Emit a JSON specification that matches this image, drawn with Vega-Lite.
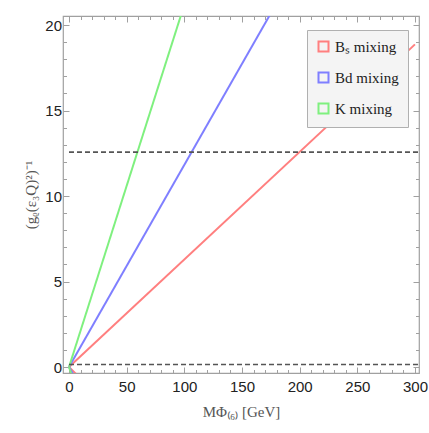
{
  "$schema": "https://vega.github.io/schema/vega-lite/v6.json",
  "width": 356,
  "height": 357,
  "autosize": {"type": "none"},
  "padding": {"left": 63, "top": 16, "right": 10, "bottom": 60},
  "background": "white",
  "config": {
    "view": {"stroke": "#A0A0A0", "strokeWidth": 1.2},
    "axis": {
      "domain": false,
      "grid": false,
      "labelFont": "Liberation Sans",
      "labelFontSize": 15,
      "labelColor": "#222222",
      "tickColor": "#A0A0A0",
      "tickWidth": 1,
      "titleFont": "Liberation Serif",
      "titleFontWeight": "normal",
      "titleColor": "#555555",
      "titleFontSize": 15
    }
  },
  "datasets": {
    "main": [
      {"s": "Bₛ mixing", "x": 0, "y": 0},
      {"s": "Bₛ mixing", "x": 300, "y": 18.87},
      {"s": "Bd mixing", "x": 0, "y": 0},
      {"s": "Bd mixing", "x": 180, "y": 21.28},
      {"s": "K mixing", "x": 0, "y": 0},
      {"s": "K mixing", "x": 100, "y": 21.19}
    ],
    "low": [
      {"s": "Bₛ mixing", "x": 0, "y": 0},
      {"s": "Bₛ mixing", "x": 6, "y": -0.4},
      {"s": "Bd mixing", "x": 0, "y": 0},
      {"s": "Bd mixing", "x": 3.5, "y": -0.4},
      {"s": "K mixing", "x": 0, "y": 0},
      {"s": "K mixing", "x": 2, "y": -0.4}
    ],
    "upper": [{"y": 12.57}],
    "lower": [{"y": 0.15}]
  },
  "layer": [
    {
      "data": {"name": "main"},
      "mark": {"type": "line", "strokeWidth": 2, "clip": true},
      "encoding": {
        "x": {
          "field": "x", "type": "quantitative",
          "scale": {"domain": [-5.2, 303.5], "nice": false, "zero": false},
          "axis": {"orient": "bottom", "values": [0, 50, 100, 150, 200, 250, 300], "tickSize": -6, "labelPadding": 12, "titlePadding": 10, "title": "MΦ₍₆₎ [GeV]"}
        },
        "y": {
          "field": "y", "type": "quantitative",
          "scale": {"domain": [-0.35, 20.53], "nice": false, "zero": false},
          "axis": {"orient": "left", "values": [0, 5, 10, 15, 20], "tickSize": -6, "labelPadding": 7.5, "titlePadding": 6, "title": "(gᵨ(ε₃Q)²)⁻¹"}
        },
        "color": {
          "field": "s", "type": "nominal",
          "scale": {"domain": ["Bₛ mixing", "Bd mixing", "K mixing"], "range": ["#FF7F7F", "#7F7FFF", "#7FF07F"]},
          "legend": {
            "orient": "none", "legendX": 244, "legendY": 14, "title": null,
            "symbolType": "square", "symbolSize": 100, "symbolStrokeWidth": 2, "symbolFillColor": "transparent",
            "fillColor": "#F4F4F4", "strokeColor": "#B0B0B0", "padding": 9,
            "labelFont": "Liberation Serif", "labelFontSize": 15, "labelColor": "#222222", "rowPadding": 12
          }
        }
      }
    },
    {
      "data": {"name": "low"},
      "mark": {"type": "line", "strokeWidth": 2, "clip": true},
      "encoding": {
        "x": {
          "field": "x", "type": "quantitative",
          "axis": {"orient": "bottom", "values": [10, 20, 30, 40, 60, 70, 80, 90, 110, 120, 130, 140, 160, 170, 180, 190, 210, 220, 230, 240, 260, 270, 280, 290], "tickSize": -3.5, "labels": false, "title": null}
        },
        "y": {
          "field": "y", "type": "quantitative",
          "axis": {"orient": "left", "values": [1, 2, 3, 4, 6, 7, 8, 9, 11, 12, 13, 14, 16, 17, 18, 19], "tickSize": -3.5, "labels": false, "title": null}
        },
        "color": {"field": "s", "type": "nominal"},
        "detail": {"field": "s"}
      }
    },
    {
      "data": {"name": "upper"},
      "mark": {"type": "rule", "strokeDash": [5, 3], "strokeWidth": 1.6, "color": "#555555"},
      "encoding": {
        "x": {
          "datum": 0, "type": "quantitative",
          "axis": {"orient": "top", "values": [0, 50, 100, 150, 200, 250, 300], "tickSize": -6, "labels": false, "title": null}
        },
        "x2": {"datum": 303.5},
        "y": {
          "field": "y", "type": "quantitative",
          "axis": {"orient": "right", "values": [0, 5, 10, 15, 20], "tickSize": -6, "labels": false, "title": null}
        }
      }
    },
    {
      "data": {"name": "lower"},
      "mark": {"type": "rule", "strokeDash": [5, 3], "strokeWidth": 1.6, "color": "#555555"},
      "encoding": {
        "x": {
          "datum": 0, "type": "quantitative",
          "axis": {"orient": "top", "values": [10, 20, 30, 40, 60, 70, 80, 90, 110, 120, 130, 140, 160, 170, 180, 190, 210, 220, 230, 240, 260, 270, 280, 290], "tickSize": -3.5, "labels": false, "title": null}
        },
        "x2": {"datum": 303.5},
        "y": {
          "field": "y", "type": "quantitative",
          "axis": {"orient": "right", "values": [1, 2, 3, 4, 6, 7, 8, 9, 11, 12, 13, 14, 16, 17, 18, 19], "tickSize": -3.5, "labels": false, "title": null}
        }
      }
    }
  ],
  "resolve": {"axis": {"x": "independent", "y": "independent"}}
}
